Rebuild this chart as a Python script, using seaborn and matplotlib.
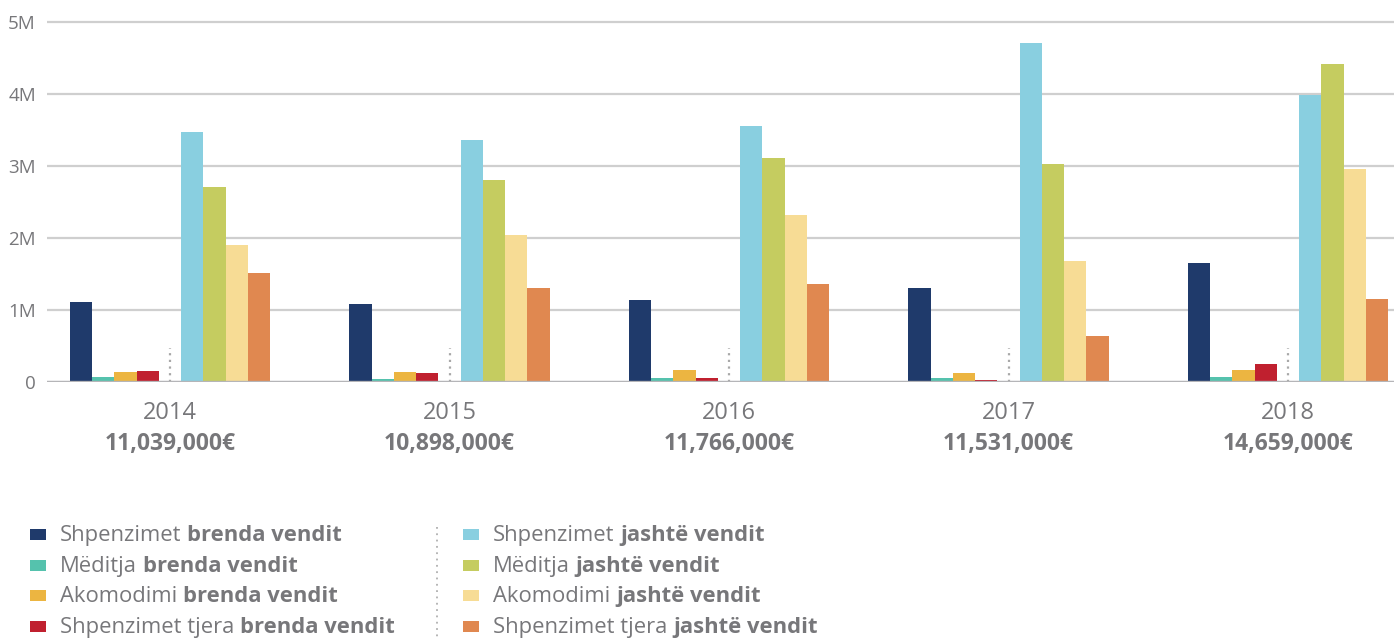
import numpy as np
import pandas as pd
import matplotlib
matplotlib.use("Agg")
import matplotlib.pyplot as plt
import seaborn as sns
from matplotlib.patches import Rectangle
from matplotlib.lines import Line2D

# ---------------- data (values in millions of €) ----------------
years = ["2014", "2015", "2016", "2017", "2018"]
totals = ["11,039,000€", "10,898,000€", "11,766,000€", "11,531,000€", "14,659,000€"]

shpenzimet_brenda = [1.11, 1.08, 1.14, 1.31, 1.65]
meditja_brenda = [0.07, 0.04, 0.06, 0.06, 0.07]
akomodimi_brenda = [0.14, 0.14, 0.17, 0.13, 0.17]
tjera_brenda = [0.15, 0.125, 0.06, 0.03, 0.25]
shpenzimet_jashte = [3.47, 3.36, 3.55, 4.71, 3.99]
meditja_jashte = [2.71, 2.80, 3.11, 3.03, 4.42]
akomodimi_jashte = [1.90, 2.04, 2.32, 1.68, 2.96]
tjera_jashte = [1.51, 1.30, 1.36, 0.64, 1.15]

label_prefix = ["Shpenzimet", "Mëditja", "Akomodimi", "Shpenzimet tjera"]
label_suffix = ["brenda vendit", "jashtë vendit"]
ytick_vals = [0, 1, 2, 3, 4, 5]
ytick_labels = ["0", "1M", "2M", "3M", "4M", "5M"]

colors_brenda = ["#1f3a6b", "#55c2ad", "#ecb541", "#c0202f"]
colors_jashte = ["#89cfe0", "#c5cc60", "#f7dc95", "#e08850"]

series_brenda = [shpenzimet_brenda, meditja_brenda, akomodimi_brenda, tjera_brenda]
series_jashte = [shpenzimet_jashte, meditja_jashte, akomodimi_jashte, tjera_jashte]

names_brenda = [f"{p} {label_suffix[0]}" for p in label_prefix]
names_jashte = [f"{p} {label_suffix[1]}" for p in label_prefix]

rows = []
for name, vals in zip(names_brenda + names_jashte, series_brenda + series_jashte):
    for y, v in zip(years, vals):
        rows.append({"year": y, "series": name, "value": v * 1e6})
df = pd.DataFrame(rows)

GAP = "_gap"
hue_order = names_brenda + [GAP] + names_jashte
palette = dict(zip(names_brenda, colors_brenda))
palette.update(dict(zip(names_jashte, colors_jashte)))
palette[GAP] = "#ffffff"

# ---------------- figure ----------------
W, H = 1394, 638
fig = plt.figure(figsize=(W / 100, H / 100), dpi=100)
FONT = "Open Sans"
GRAY = "#77777a"

ax_left, ax_right = 47 / W, 1.0
base_y, top_y = 382, 22
ymax = 5.06e6
top_px = base_y - (base_y - top_y) * ymax / 5e6
ax = fig.add_axes([ax_left, 1 - base_y / H, ax_right - ax_left, (base_y - top_px) / H])

sns.barplot(data=df, x="year", y="value", hue="series", hue_order=hue_order,
            order=years, palette=palette, width=0.716, dodge=True, gap=0,
            saturation=1, errorbar=None, legend=False, linewidth=0, ax=ax)

ax.set_ylim(0, ymax)
ax.set_xlim(-0.44, 4.379)
for s in ax.spines.values():
    s.set_visible(False)
ax.set_yticks([v * 1e6 for v in ytick_vals])
ax.set_yticklabels(ytick_labels, fontsize=13.5, color=GRAY, family=FONT)
ax.tick_params(axis="y", length=0, pad=8)
ax.yaxis.grid(True, color="#cfcfcf", linewidth=1.6)
ax.set_axisbelow(True)
ax.axhline(0, color="#b5b5b8", linewidth=2.4, zorder=5)

ax.set_xticks(range(len(years)))
ax.set_xticklabels(years, fontsize=17, color=GRAY, family=FONT, va="center")
ax.tick_params(axis="x", length=0, pad=22)
ax.set_xlabel("")
ax.set_ylabel("")

# totals under year labels
for i, t in enumerate(totals):
    ax.annotate(t, xy=(i, 0), xycoords=("data", "axes fraction"),
                xytext=(0, -62), textcoords="offset pixels", ha="center", va="center",
                fontsize=16.5, fontweight="bold", color=GRAY, family=FONT)

# dotted separators inside each group
for i in range(len(years)):
    ax.plot([i, i], [0, 0.47e6], linestyle=(0, (1, 2)), color="#a8a8a8",
            linewidth=1.6, zorder=4)

# ---------------- legend ----------------
def fx(x):
    return x / W

def fy(y):
    return 1 - y / H

row_base = [541, 572, 602, 633]
col_sq = [30, 463]
col_tx = [60, 493]
sq_w, sq_h = 16, 11
renderer = fig.canvas.get_renderer()
for c, (names_colors, suffix) in enumerate([(colors_brenda, label_suffix[0]),
                                             (colors_jashte, label_suffix[1])]):
    for r, (pref, col) in enumerate(zip(label_prefix, names_colors)):
        cy = row_base[r] - 6.5
        fig.patches.append(Rectangle((fx(col_sq[c]), fy(cy + sq_h / 2)), sq_w / W, sq_h / H,
                                     transform=fig.transFigure, facecolor=col,
                                     edgecolor="none", figure=fig))
        t1 = fig.text(fx(col_tx[c]), fy(row_base[r]), pref, fontsize=15.8, color=GRAY,
                      family=FONT, va="baseline", ha="left")
        bb = t1.get_window_extent(renderer=renderer)
        fig.text(fx(bb.x1 + 6), fy(row_base[r]), suffix, fontsize=15.8, color=GRAY,
                 family=FONT, fontweight="bold", va="baseline", ha="left")

fig.add_artist(Line2D([fx(437), fx(437)], [fy(527), fy(638)], transform=fig.transFigure,
                      linestyle=(0, (1, 2.5)), color="#b0b0b0", linewidth=1.3))

fig.savefig("out.png", dpi=100)
